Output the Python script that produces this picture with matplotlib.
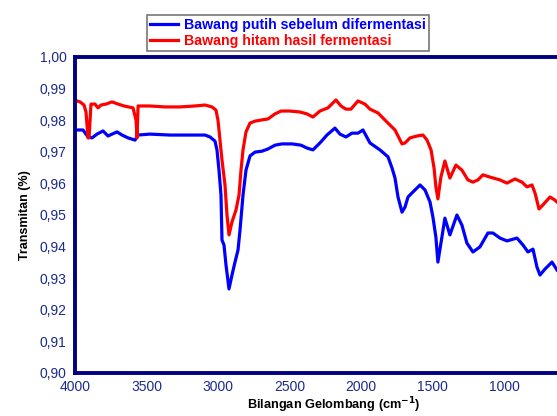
import matplotlib
matplotlib.use('Agg')
import matplotlib.pyplot as plt
from matplotlib.ticker import FuncFormatter

# Bawang putih sebelum difermentasi (biru)
wn_putih = [3986, 3944, 3909, 3881, 3846, 3804, 3769, 3741, 3706, 3671, 3629, 3580,
            3559, 3476, 3336, 3196, 3091, 3056, 3021, 3007, 2993, 2979, 2972, 2958,
            2944, 2923, 2902, 2881, 2860, 2846, 2825, 2804, 2776, 2741, 2692, 2650,
            2601, 2552, 2483, 2420, 2378, 2336, 2287, 2238, 2182, 2147, 2105, 2063,
            2021, 1986, 1937, 1867, 1811, 1783, 1762, 1741, 1713, 1692, 1671, 1636,
            1587, 1552, 1517, 1497, 1476, 1462, 1434, 1413, 1378, 1329, 1294, 1259,
            1217, 1168, 1112, 1077, 1028, 979, 909, 867, 832, 797, 769, 748, 713,
            664, 629]
t_putih = [0.9769, 0.9769, 0.9747, 0.9744, 0.9756, 0.9766, 0.9750, 0.9756, 0.9763,
           0.9753, 0.9744, 0.9737, 0.9753, 0.9756, 0.9753, 0.9753, 0.9753, 0.9747,
           0.9734, 0.9706, 0.9642, 0.9563, 0.9421, 0.9405, 0.9342, 0.9266, 0.9310,
           0.9351, 0.9389, 0.9452, 0.9563, 0.9642, 0.9687, 0.9699, 0.9702, 0.9709,
           0.9721, 0.9725, 0.9725, 0.9721, 0.9712, 0.9706, 0.9728, 0.9753, 0.9775,
           0.9756, 0.9747, 0.9759, 0.9759, 0.9769, 0.9728, 0.9706, 0.9684, 0.9649,
           0.9617, 0.9557, 0.9509, 0.9525, 0.9557, 0.9573, 0.9595, 0.9579, 0.9541,
           0.9494, 0.9430, 0.9351, 0.9430, 0.9490, 0.9437, 0.9500, 0.9468, 0.9411,
           0.9383, 0.9399, 0.9443, 0.9443, 0.9427, 0.9418, 0.9427, 0.9405, 0.9383,
           0.9392, 0.9335, 0.9310, 0.9329, 0.9351, 0.9326]

# Bawang hitam hasil fermentasi (merah)
wn_hitam = [3986, 3965, 3937, 3923, 3909, 3902, 3888, 3860, 3839, 3818, 3783, 3741,
            3699, 3657, 3594, 3573, 3566, 3559, 3476, 3371, 3266, 3161, 3091, 3042,
            3014, 3000, 2986, 2972, 2951, 2937, 2923, 2902, 2874, 2853, 2839, 2825,
            2804, 2776, 2741, 2692, 2650, 2601, 2559, 2497, 2427, 2378, 2336, 2287,
            2231, 2175, 2140, 2105, 2070, 2021, 1972, 1937, 1881, 1818, 1762, 1713,
            1692, 1657, 1608, 1566, 1538, 1510, 1489, 1476, 1462, 1441, 1413, 1378,
            1336, 1294, 1252, 1217, 1182, 1147, 1098, 1028, 979, 923, 874, 839, 804,
            783, 755, 727, 678, 643, 629]
t_hitam = [0.9861, 0.9858, 0.9848, 0.9826, 0.9744, 0.9744, 0.9851, 0.9851, 0.9839,
           0.9848, 0.9851, 0.9858, 0.9851, 0.9845, 0.9839, 0.9800, 0.9744, 0.9845,
           0.9845, 0.9842, 0.9842, 0.9845, 0.9848, 0.9842, 0.9832, 0.9800, 0.9737,
           0.9674, 0.9595, 0.9500, 0.9437, 0.9478, 0.9516, 0.9563, 0.9642, 0.9706,
           0.9763, 0.9791, 0.9797, 0.9801, 0.9804, 0.9820, 0.9829, 0.9829, 0.9826,
           0.9820, 0.9810, 0.9829, 0.9839, 0.9864, 0.9845, 0.9835, 0.9835, 0.9861,
           0.9851, 0.9835, 0.9823, 0.9794, 0.9769, 0.9725, 0.9728, 0.9744, 0.9750,
           0.9753, 0.9737, 0.9706, 0.9649, 0.9589, 0.9551, 0.9620, 0.9671, 0.9617,
           0.9658, 0.9642, 0.9611, 0.9604, 0.9611, 0.9627, 0.9620, 0.9611, 0.9601,
           0.9614, 0.9604, 0.9589, 0.9595, 0.9570, 0.9519, 0.9532, 0.9557, 0.9547,
           0.9541]

x_ticks = [4000, 3500, 3000, 2500, 2000, 1500, 1000]
y_ticks = [0.90, 0.91, 0.92, 0.93, 0.94, 0.95, 0.96, 0.97, 0.98, 0.99, 1.00]

plt.rcParams['font.family'] = ['Liberation Sans', 'DejaVu Sans']
navy = '#000080'
tick_col = '#1c2a8c'

fig = plt.figure(figsize=(5.57, 4.16), dpi=100)
ax = fig.add_axes([75 / 557, 43 / 416, 482 / 557, 316 / 416])

ax.plot(wn_putih, t_putih, color='#0000ff', lw=2.3, label='Bawang putih sebelum difermentasi')
ax.plot(wn_hitam, t_hitam, color='#ff0000', lw=2.3, label='Bawang hitam hasil fermentasi')

ax.set_xlim(4000, 629)
ax.set_ylim(0.90, 1.00)
ax.set_xticks(x_ticks)
ax.set_yticks(y_ticks)
ax.yaxis.set_major_formatter(FuncFormatter(lambda v, p: f'{v:.2f}'.replace('.', ',')))
ax.tick_params(length=0, labelsize=10, colors=tick_col)
ax.tick_params(axis='y', pad=6)
ax.tick_params(axis='x', pad=5)

for side in ['left', 'bottom', 'top']:
    ax.spines[side].set_color(navy)
    ax.spines[side].set_linewidth(2.8)
ax.spines['right'].set_visible(False)

ax.set_ylabel('Transmitan (%)', fontsize=9, fontweight='bold', labelpad=6)
fig.text(334 / 557, 1 - 405 / 416, 'Bilangan Gelombang (cm$^{\\mathbf{-1}}$)',
         ha='center', va='center', fontsize=9.2, fontweight='bold')

leg = fig.legend(loc='upper center', bbox_to_anchor=(288 / 557, 1 - 8 / 416),
                 frameon=True, fancybox=False, labelcolor='linecolor',
                 handlelength=2.0, handletextpad=0.4, borderpad=0.2,
                 labelspacing=0.15, prop={'weight': 'bold', 'size': 10.2})
leg.get_frame().set_edgecolor('#555555')
leg.get_frame().set_linewidth(1.2)

plt.savefig('out.png', dpi=100)
plt.close()
